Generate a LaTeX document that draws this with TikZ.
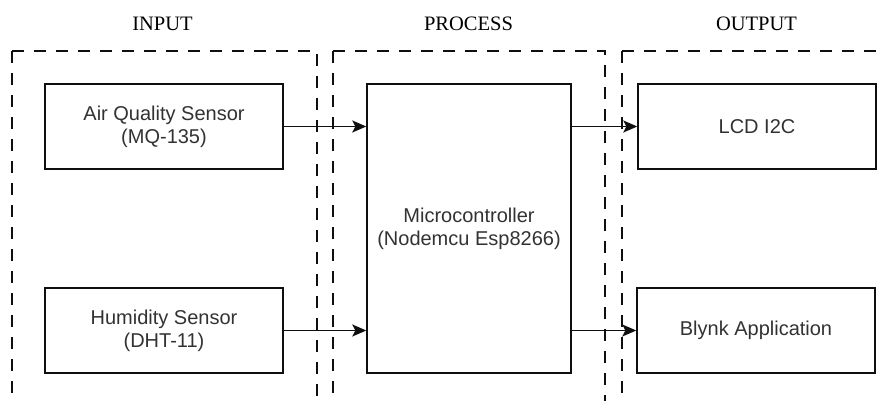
\documentclass[tikz,border=0pt]{standalone}
\usepackage{fontspec}
\setmainfont{Liberation Serif}
\newfontfamily\boxfont{Liberation Sans}
\usetikzlibrary{arrows.meta}
\definecolor{txtgray}{RGB}{50,50,50}
\definecolor{linegray}{RGB}{15,15,15}
\tikzset{
  region/.style={draw=linegray, line width=1.2pt, dash pattern=on 12pt off 10pt},
  blockbox/.style={draw=linegray, line width=1.4pt, inner sep=0pt, align=center,
    text=txtgray, font=\boxfont\fontsize{20}{23}\selectfont},
  header/.style={font=\fontsize{20.5}{24}\selectfont, text=black, inner sep=0pt},
  arr/.style={draw=linegray, line width=1.4pt, -{Stealth[length=14pt,width=12pt,inset=3pt]}}
}
\begin{document}
\begin{tikzpicture}[x=1pt,y=-1pt]
\useasboundingbox (0,0) rectangle (881,401);
\begin{scope}
\clip (0,0) rectangle (881,401);
\draw[region] (12,51) -- (12,460);
\draw[region] (12,51) -- (317,51) -- (317,460);
\draw[region] (333,51) -- (333,460);
\draw[region] (333,51) -- (605,51) -- (605,460);
\draw[region] (622,51) -- (622,460);
\draw[region] (622,51) -- (900,51);
\end{scope}
\node[header] (hin) at (162.5,24) {INPUT};
\node[header] (hproc) at (468.5,24) {PROCESS};
\node[header] (hout) at (756.5,24) {OUTPUT};
\node[blockbox, minimum width=238pt, minimum height=85pt] (air) at (164,126.5) {Air Quality Sensor\\(MQ-135)};
\node[blockbox, minimum width=238pt, minimum height=85pt] (hum) at (164,330.5) {Humidity Sensor\\(DHT-11)};
\node[blockbox, minimum width=204pt, minimum height=289pt] (mcu) at (469,228.5) {Microcontroller\\(Nodemcu Esp8266)};
\node[blockbox, minimum width=238pt, minimum height=85pt] (lcd) at (757,126.5) {LCD I2C};
\node[blockbox, minimum width=238pt, minimum height=85pt] (blynk) at (756,330.5) {Blynk Application};
\draw[arr] (air.east) -- (air.east -| mcu.west);
\draw[arr] (hum.east) -- (hum.east -| mcu.west);
\draw[arr] (mcu.east |- lcd.west) -- (lcd.west);
\draw[arr] (mcu.east |- blynk.west) -- (blynk.west);
\end{tikzpicture}
\end{document}
